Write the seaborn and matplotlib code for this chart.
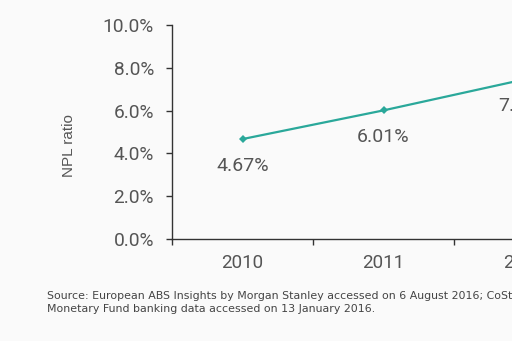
import matplotlib
matplotlib.use("Agg")
import matplotlib.pyplot as plt
import seaborn as sns
import pandas as pd
from matplotlib.ticker import FixedLocator

years = ["2010", "2011", "2012"]
npl = [4.67, 6.01, 7.46]
labels = ["4.67%", "6.01%", "7.46%"]
yticks = [0, 2, 4, 6, 8, 10]

sns.set_theme(style="white")
plt.rcParams['font.family'] = ['Roboto', 'DejaVu Sans']

bg = "#fafafa"
txt = "#555555"
fig = plt.figure(figsize=(5.12, 3.41), dpi=100, facecolor=bg)
# axes extends beyond the right edge (reference is a crop)
ax = fig.add_axes([172/512, 102/341, 423/512, 214/341], facecolor=bg)

df = pd.DataFrame({"year": years, "npl": npl})
sns.lineplot(data=df, x="year", y="npl", ax=ax, color="#2aa89a", lw=1.6,
             marker="D", markersize=4, markeredgewidth=0)

ax.set_xlim(-0.5, 2.5)
ax.set_ylim(0, 10)
ax.set_yticks(yticks)
ax.set_yticklabels([f"{v:.1f}%" for v in yticks], fontsize=13.8, color=txt)
ax.set_xticks(range(len(years)))
ax.set_xticklabels(years, fontsize=13.5, color=txt)
ax.xaxis.set_minor_locator(FixedLocator([-0.5, 0.5, 1.5]))
ax.tick_params(axis="x", which="major", length=0, pad=11)
ax.tick_params(axis="x", which="minor", length=4, width=1, color="#333333", direction="out", bottom=True)
ax.tick_params(axis="y", length=4, width=1, color="#333333", direction="out", left=True, pad=9)
ax.set_xlabel("")
ax.set_ylabel("NPL ratio", fontsize=11, color=txt, family=["Liberation Sans"])
ax.yaxis.set_label_coords(-96/423, 0.435)

for s in ["top", "right"]:
    ax.spines[s].set_visible(False)
for s in ["left", "bottom"]:
    ax.spines[s].set_color("#333333")
    ax.spines[s].set_linewidth(1)

for i, (v, t) in enumerate(zip(npl, labels)):
    ax.annotate(t, (i, v), xytext=(0, -13), textcoords="offset points",
                ha="center", va="top", fontsize=14, color=txt)

fig.text(47/512, 1 - 296/341, "Source: European ABS Insights by Morgan Stanley accessed on 6 August 2016; CoStar Group; International",
         fontsize=7.9, color="#444444", va="center", ha="left", family=["DejaVu Sans"])
fig.text(47/512, 1 - 309/341, "Monetary Fund banking data accessed on 13 January 2016.",
         fontsize=7.9, color="#444444", va="center", ha="left", family=["DejaVu Sans"])

fig.savefig("out.png", dpi=100, facecolor=bg)
